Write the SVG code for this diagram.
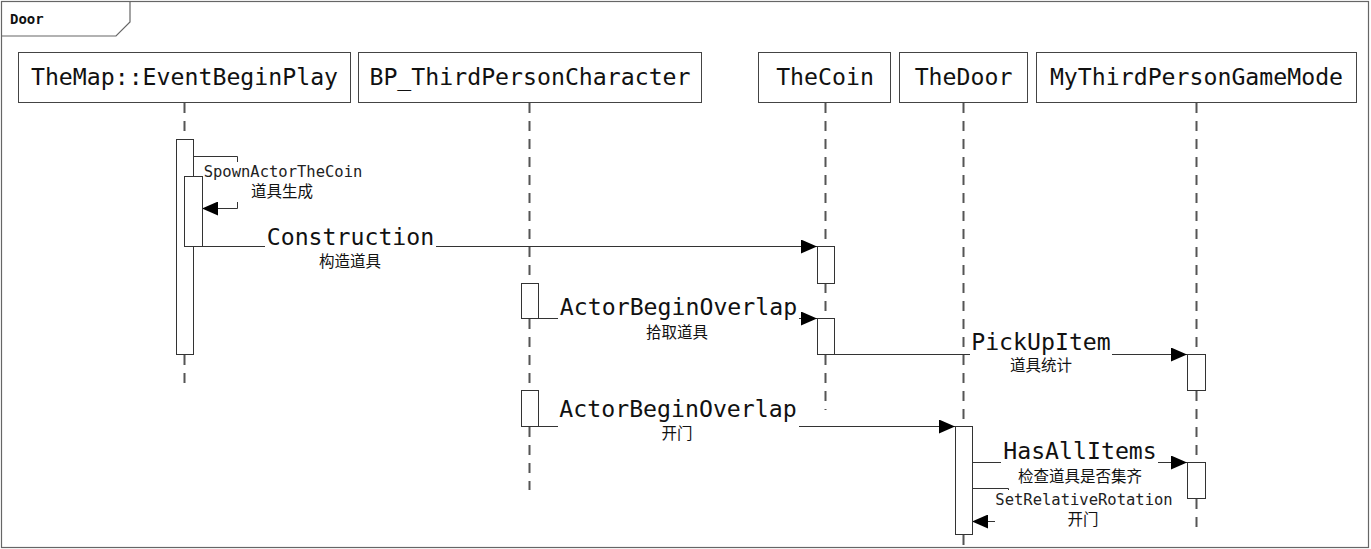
<svg xmlns="http://www.w3.org/2000/svg" width="1371" height="549" viewBox="0 0 1371 549">
<style>
.frame{fill:none;stroke:#666;stroke-width:1.2}
.pbox{fill:#fff;stroke:#444;stroke-width:1}
.ptxt{font-family:"DejaVu Sans Mono","Liberation Mono",monospace;font-size:23.2px;fill:#111;text-anchor:middle}
.life{stroke:#555;stroke-width:2;stroke-dasharray:10,8;fill:none}
.act{fill:#fff;stroke:#333;stroke-width:1}
.msg{stroke:#333;stroke-width:1;fill:none}
.bg{fill:#fff;stroke:none}
.big{font-family:"DejaVu Sans Mono","Liberation Mono",monospace;font-size:23.2px;fill:#111;text-anchor:middle}
.small{font-family:"DejaVu Sans Mono","Liberation Mono",monospace;font-size:15.5px;fill:#222;text-anchor:middle}
.cjk{font-family:"Noto Sans CJK SC",sans-serif;font-size:15.5px;fill:#111;text-anchor:middle}
</style>
<defs>
<marker id="arr" markerUnits="userSpaceOnUse" markerWidth="16" markerHeight="14" refX="16" refY="7" orient="auto">
<path d="M0,0 L16,7 L0,14 z" fill="#000"/>
</marker>
</defs>
<rect width="1371" height="549" fill="#fff"/>
<g id="frame">
<rect class="frame" x="1.5" y="1.5" width="1367" height="546"/>
<path class="frame" d="M1.5,36 L116,36 L130,22 L130,1.5"/>
<text x="10" y="24" style="font-family:'DejaVu Sans Mono',monospace;font-size:14px;font-weight:bold;fill:#111">Door</text>
</g>
<g id="lifelines">
<line class="life" x1="184.5" y1="103" x2="184.5" y2="385"/>
<line class="life" x1="529.5" y1="103" x2="529.5" y2="490"/>
<line class="life" x1="825.5" y1="103" x2="825.5" y2="410"/>
<line class="life" x1="963.5" y1="103" x2="963.5" y2="545"/>
<line class="life" x1="1196.5" y1="103" x2="1196.5" y2="528"/>
</g>
<g id="p_themap"><rect class="pbox" x="18.5" y="52.5" width="332" height="50"/><text class="ptxt" x="184.5" y="85">TheMap::EventBeginPlay</text></g>
<g id="p_bp"><rect class="pbox" x="358.5" y="52.5" width="343" height="50"/><text class="ptxt" x="530" y="85">BP_ThirdPersonCharacter</text></g>
<g id="p_coin"><rect class="pbox" x="758.5" y="52.5" width="132" height="50"/><text class="ptxt" x="825" y="85">TheCoin</text></g>
<g id="p_door"><rect class="pbox" x="899.5" y="52.5" width="128" height="50"/><text class="ptxt" x="963.5" y="85">TheDoor</text></g>
<g id="p_gm"><rect class="pbox" x="1036.5" y="52.5" width="320" height="50"/><text class="ptxt" x="1196.5" y="85">MyThirdPersonGameMode</text></g>
<g id="connectors">
<path class="msg" d="M193,156.5 H237.5 V208.5 H202" marker-end="url(#arr)"/>
<line class="msg" x1="202" y1="246.5" x2="817" y2="246.5" marker-end="url(#arr)"/>
<line class="msg" x1="538" y1="318.5" x2="817" y2="318.5" marker-end="url(#arr)"/>
<line class="msg" x1="834" y1="354.5" x2="1187" y2="354.5" marker-end="url(#arr)"/>
<line class="msg" x1="538" y1="426.5" x2="955" y2="426.5" marker-end="url(#arr)"/>
<line class="msg" x1="972" y1="462.5" x2="1187" y2="462.5" marker-end="url(#arr)"/>
<path class="msg" d="M972,488.5 H1008.5 V521.5 H972" marker-end="url(#arr)"/>
</g>
<g id="activations">
<rect class="act" x="176.5" y="139.5" width="17" height="215"/>
<rect class="act" x="184.5" y="176.5" width="18" height="70"/>
<rect class="act" x="817.5" y="246.5" width="17" height="37"/>
<rect class="act" x="521.5" y="283.5" width="17" height="35"/>
<rect class="act" x="817.5" y="318.5" width="17" height="36"/>
<rect class="act" x="1187.5" y="354.5" width="18" height="36"/>
<rect class="act" x="521.5" y="390.5" width="17" height="36"/>
<rect class="act" x="955.5" y="426.5" width="17" height="108"/>
<rect class="act" x="1187.5" y="462.5" width="18" height="36"/>
</g>
<g id="labels">
<rect class="bg" x="203" y="162" width="160" height="40"/>
<text class="small" x="283" y="177">SpownActorTheCoin</text>
<text class="cjk" x="282" y="197">道具生成</text>

<rect class="bg" x="265" y="226" width="171" height="22"/>
<text class="big" x="350.5" y="245">Construction</text>
<text class="cjk" x="350" y="267">构造道具</text>

<rect class="bg" x="558" y="298" width="241" height="22"/>
<text class="big" x="678.5" y="315">ActorBeginOverlap</text>
<text class="cjk" x="677" y="338">拾取道具</text>

<rect class="bg" x="970" y="332" width="142" height="24"/>
<text class="big" x="1041" y="350">PickUpItem</text>
<text class="cjk" x="1041" y="371">道具统计</text>

<rect class="bg" x="558" y="400" width="241" height="28"/>
<text class="big" x="678" y="417">ActorBeginOverlap</text>
<text class="cjk" x="677" y="439">开门</text>

<rect class="bg" x="1001" y="441" width="157" height="23"/>
<text class="big" x="1080" y="459">HasAllItems</text>
<text class="cjk" x="1080" y="482">检查道具是否集齐</text>

<rect class="bg" x="995" y="490" width="180" height="38"/>
<text class="small" x="1084" y="505">SetRelativeRotation</text>
<text class="cjk" x="1083" y="525">开门</text>
</g>
</svg>
